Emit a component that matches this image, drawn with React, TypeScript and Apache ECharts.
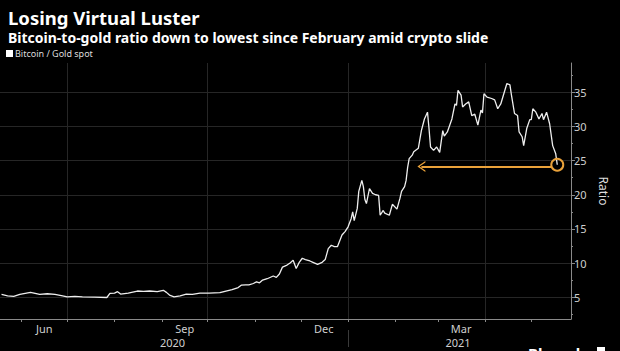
import React, { useEffect, useRef } from "react";
import * as echarts from "echarts";

const dates: string[] = [
  "2020-05-19","2020-05-23","2020-05-27","2020-05-31","2020-06-07","2020-06-13","2020-06-18","2020-06-23","2020-06-28",
  "2020-07-01","2020-07-06","2020-07-11","2020-07-19","2020-07-27","2020-07-29","2020-08-01","2020-08-03","2020-08-05",
  "2020-08-10","2020-08-16","2020-08-20","2020-08-24","2020-08-29","2020-09-02","2020-09-04","2020-09-06","2020-09-09",
  "2020-09-13","2020-09-17","2020-09-21","2020-09-26","2020-10-02","2020-10-09","2020-10-13","2020-10-17","2020-10-21",
  "2020-10-23","2020-10-26","2020-10-28","2020-10-31","2020-11-02","2020-11-04","2020-11-06","2020-11-09","2020-11-13",
  "2020-11-15","2020-11-17","2020-11-19","2020-11-22","2020-11-24","2020-11-26","2020-11-28","2020-11-30","2020-12-02",
  "2020-12-04","2020-12-07","2020-12-09","2020-12-12","2020-12-15","2020-12-17","2020-12-19","2020-12-21","2020-12-23",
  "2020-12-25","2020-12-28","2020-12-30","2021-01-01","2021-01-03","2021-01-04","2021-01-05","2021-01-07","2021-01-08",
  "2021-01-10","2021-01-11","2021-01-12","2021-01-13","2021-01-15","2021-01-17","2021-01-19","2021-01-21","2021-01-22",
  "2021-01-24","2021-01-25","2021-01-28","2021-01-30","2021-02-02","2021-02-04","2021-02-05","2021-02-07","2021-02-08",
  "2021-02-09","2021-02-10","2021-02-12","2021-02-13","2021-02-16","2021-02-18","2021-02-20","2021-02-22","2021-02-23",
  "2021-02-24","2021-02-26","2021-02-28","2021-03-02","2021-03-04","2021-03-05","2021-03-07","2021-03-10","2021-03-12",
  "2021-03-13","2021-03-14","2021-03-16","2021-03-17","2021-03-19","2021-03-21","2021-03-23","2021-03-25","2021-03-27",
  "2021-03-29","2021-03-30","2021-03-31","2021-04-02","2021-04-05","2021-04-07","2021-04-09","2021-04-11","2021-04-13",
  "2021-04-15","2021-04-17","2021-04-18","2021-04-20","2021-04-22","2021-04-23","2021-04-25","2021-04-26","2021-04-28",
  "2021-04-30","2021-05-01","2021-05-02","2021-05-04","2021-05-06","2021-05-08","2021-05-09","2021-05-11","2021-05-13",
  "2021-05-15","2021-05-17","2021-05-18",
];

const ratio: number[] = [
  5.4,5.2,5.1,5.4,5.7,5.4,5.5,5.4,5.2,
  5.05,5.1,5.05,5.0,4.95,5.55,5.6,5.8,5.45,
  5.6,5.9,5.85,5.9,5.8,6.0,5.7,5.3,5.05,
  5.2,5.45,5.4,5.6,5.6,5.65,5.9,6.1,6.4,
  6.75,6.8,6.8,7.0,7.25,7.1,7.5,7.7,8.1,
  7.9,8.4,9.4,9.7,10.0,10.4,9.2,10.1,10.7,
  10.5,10.3,10.1,9.8,10.1,10.5,12.1,12.6,12.4,
  12.4,14.1,14.6,15.3,16.5,17.5,16.2,18.0,20.5,
  22.1,21.2,19.3,18.7,20.9,20.2,20.0,19.9,17.0,
  17.7,17.3,17.0,18.6,17.9,19.5,20.5,21.2,22.1,
  24.0,25.3,25.8,26.3,26.8,29.4,31.1,32.1,29.7,
  27.0,26.5,27.0,26.2,29.4,28.6,29.2,31.1,33.3,
  33.1,35.3,34.6,32.85,33.3,33.6,31.6,31.8,30.2,
  32.4,32.0,34.8,34.3,34.1,33.9,32.6,33.3,34.8,
  36.3,36.1,34.6,31.9,31.6,29.2,28.5,27.2,29.7,
  31.0,31.0,32.6,32.1,31.1,31.9,31.0,32.1,30.4,
  27.2,26.0,24.4,
];

const xRange: string[] = ["2020-05-18", "2021-05-27"];
const monthTickDates: string[] = [
  "2020-06-01","2020-07-01","2020-08-01","2020-09-01","2020-10-01","2020-11-01",
  "2020-12-01","2021-01-01","2021-02-01","2021-03-01","2021-04-01","2021-05-01",
];
const quarterDates: string[] = ["2020-07-01", "2020-10-01", "2021-01-01", "2021-04-01"];
const monthLabelDates: string[] = ["2020-06-16", "2020-09-16", "2020-12-16", "2021-03-16"];
const monthLabels: string[] = ["Jun", "Sep", "Dec", "Mar"];
const yearLabelDates: string[] = ["2020-09-08", "2021-03-14"];
const yearLabels: string[] = ["2020", "2021"];
const yearBreak: string[] = ["2021-01-01"];
const yTicks: number[] = [5, 10, 15, 20, 25, 30, 35];
const yMinorTicks: number[] = [2.5, 7.5, 12.5, 17.5, 22.5, 27.5, 32.5, 37.5];
const arrowFrom = { date: "2021-02-18", value: 24.15 };
const arrowTo = { date: "2021-05-14", value: 24.15 };
const circlePoint = { date: "2021-05-18", value: 24.4 };

const ts = (s: string) => {
  const [y, m, d] = s.split("-").map(Number);
  return Date.UTC(y, m - 1, d);
};

const ORANGE = "#eaa23a";
const DAY = 86400000;

export default function App() {
  const ref = useRef<HTMLDivElement>(null);
  useEffect(() => {
    if (!ref.current) return;
    const chart = echarts.init(ref.current, null, { renderer: "svg" });
    const xmin = ts(xRange[0]);
    const xmax = ts(xRange[1]);
    const lblTs = monthLabelDates.map(ts);
    const yrTs = yearLabelDates.map(ts);
    const font = "'Noto Sans', sans-serif";
    const baseX = { type: "value", min: xmin, max: xmax, gridIndex: 0, position: "bottom", scale: true };
    chart.setOption({
      animation: false,
      backgroundColor: "#000000",
      textStyle: { fontFamily: font },
      title: [
        {
          text: "Losing Virtual Luster",
          left: 3,
          top: 1,
          textStyle: { color: "#ffffff", fontSize: 18.5, lineHeight: 22, fontWeight: "bold", fontFamily: font },
        },
        {
          text: "Bitcoin-to-gold ratio down to lowest since February amid crypto slide",
          left: 3,
          top: 24,
          textStyle: { color: "#ffffff", fontSize: 14, lineHeight: 17, fontWeight: "bold", fontFamily: font },
        },
      ],
      legend: {
        left: 1,
        top: 44,
        icon: "rect",
        itemWidth: 7,
        itemHeight: 7,
        itemGap: 4,
        textStyle: { color: "#dddddd", fontSize: 9, fontFamily: font, padding: [0, 0, 0, -3] },
        data: ["Bitcoin / Gold spot"],
      },
      grid: { left: 0, right: 49, top: 63, bottom: 32, containLabel: false },
      xAxis: [
        {
          ...baseX,
          axisLine: { show: true, lineStyle: { color: "#8a8a8a", width: 1 } },
          axisTick: {
            show: true,
            length: 3,
            inside: false,
            customValues: monthTickDates.map(ts),
            lineStyle: { color: "#8a8a8a" },
          },
          axisLabel: {
            show: true,
            color: "#cfcfcf",
            fontSize: 11,
            lineHeight: 13,
            margin: 3,
            customValues: lblTs,
            formatter: (v: number) => {
              const i = lblTs.findIndex((t) => Math.abs(t - v) < DAY);
              return i >= 0 ? monthLabels[i] : "";
            },
          },
          splitLine: { show: false },
        },
        {
          ...baseX,
          axisLine: { show: false },
          axisTick: { show: false, customValues: quarterDates.map(ts) },
          axisLabel: { show: false },
          splitLine: { show: true, lineStyle: { color: "#262626", width: 1 } },
        },
        {
          ...baseX,
          offset: 11,
          axisLine: { show: false },
          axisTick: {
            show: true,
            length: 17,
            customValues: yearBreak.map(ts),
            lineStyle: { color: "#3a3a3a" },
          },
          axisLabel: {
            show: true,
            color: "#cfcfcf",
            fontSize: 11,
            lineHeight: 13,
            margin: 6,
            customValues: yrTs,
            formatter: (v: number) => {
              const i = yrTs.findIndex((t) => Math.abs(t - v) < DAY);
              return i >= 0 ? yearLabels[i] : "";
            },
          },
          splitLine: { show: false },
        },
      ],
      yAxis: [
        {
          type: "value",
          position: "right",
          min: 1.8,
          max: 39.3,
          name: "Ratio",
          nameLocation: "middle",
          nameRotate: -90,
          nameGap: 21,
          nameTextStyle: { color: "#dddddd", fontSize: 12, fontFamily: font },
          axisLine: { show: true, lineStyle: { color: "#8a8a8a", width: 1 } },
          axisTick: { show: true, length: 4, customValues: yTicks, lineStyle: { color: "#8a8a8a" } },
          axisLabel: { show: true, color: "#cfcfcf", fontSize: 11, margin: 3, customValues: yTicks },
          splitLine: { show: true, lineStyle: { color: "#262626", width: 1 } },
        },
        {
          type: "value",
          position: "right",
          min: 1.8,
          max: 39.3,
          axisLine: { show: false },
          axisTick: { show: true, length: 2, customValues: yMinorTicks, lineStyle: { color: "#8a8a8a" } },
          axisLabel: { show: false },
          splitLine: { show: false },
        },
      ],
      series: [
        {
          name: "Bitcoin / Gold spot",
          type: "line",
          xAxisIndex: 0,
          yAxisIndex: 0,
          showSymbol: false,
          symbol: "none",
          itemStyle: { color: "#ffffff" },
          lineStyle: { color: "#eeeeee", width: 1.3 },
          data: dates.map((d, i) => [ts(d), ratio[i]]),
          markLine: {
            silent: true,
            symbol: ["path://M0,10 L5,0 L10,10 L8.6,10 L5,2.8 L1.4,10 Z", "none"],
            symbolSize: [11, 8],
            lineStyle: { color: ORANGE, width: 2, type: "solid" },
            label: { show: false },
            data: [
              [
                { coord: [ts(arrowFrom.date), arrowFrom.value] },
                { coord: [ts(arrowTo.date), arrowTo.value] },
              ],
            ],
          },
          markPoint: {
            silent: true,
            symbol: "circle",
            symbolSize: 12,
            itemStyle: { color: "rgba(0,0,0,0)", borderColor: ORANGE, borderWidth: 2 },
            label: { show: false },
            data: [{ coord: [ts(circlePoint.date), circlePoint.value] }],
          },
        },
      ],
      graphic: [
        {
          type: "text",
          left: 528,
          top: 345,
          style: { text: "Bloomberg", fill: "#ffffff", fontSize: 15, fontWeight: "bold", fontFamily: font },
        },
        {
          type: "rect",
          shape: { x: 597, y: 347, width: 8, height: 8 },
          style: { fill: "#ffffff" },
        },
      ],
    });
    return () => chart.dispose();
  }, []);
  return (
    <div
      ref={ref}
      style={{ position: "absolute", left: 0, top: 0, width: 620, height: 351, background: "#000" }}
    />
  );
}
